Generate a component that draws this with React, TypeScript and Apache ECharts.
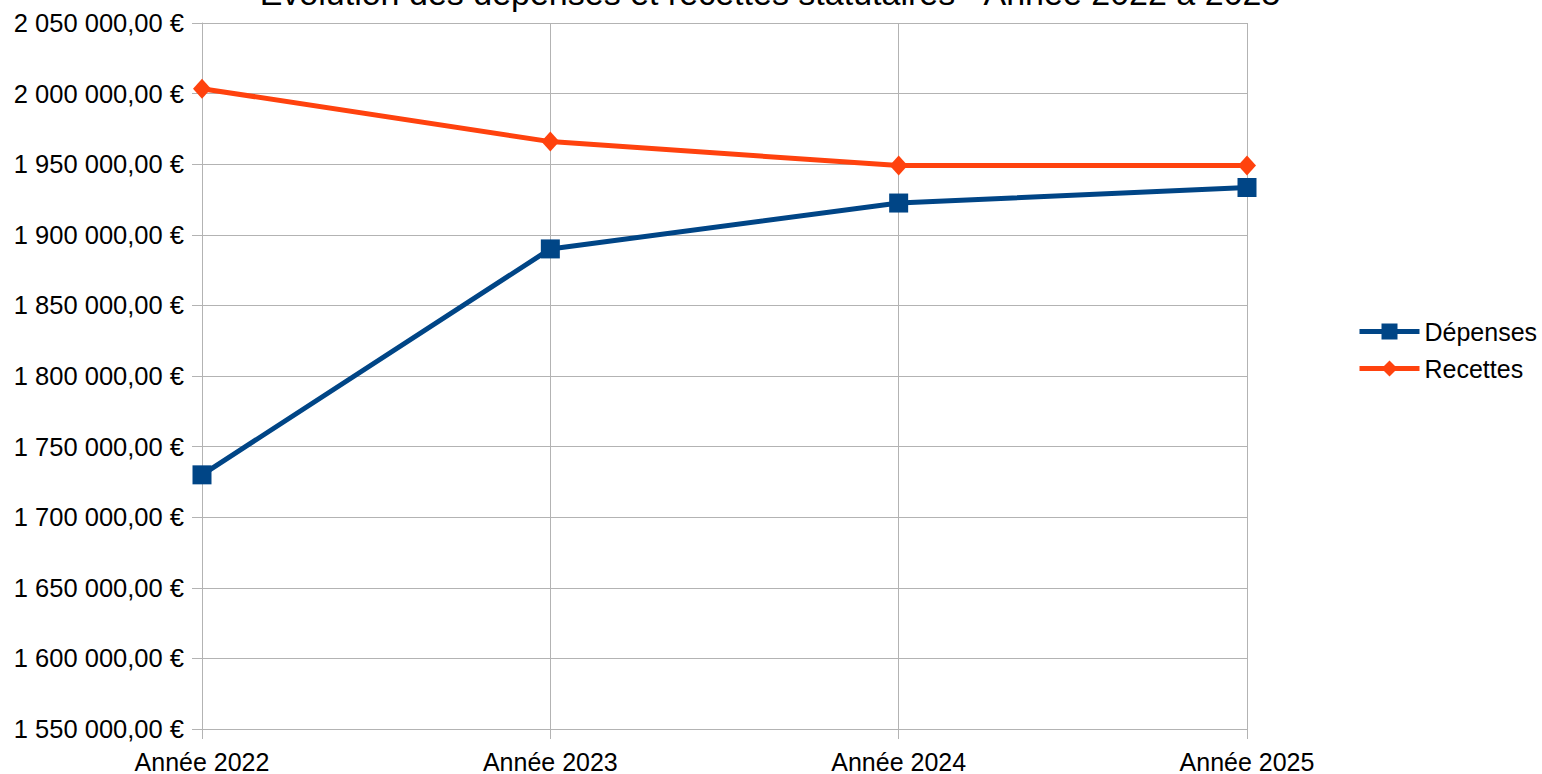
import React, { useEffect, useRef } from "react";
import * as echarts from "echarts";

const title = "Évolution des dépenses et recettes statutaires - Année 2022 à 2025";
const categories = ["Année 2022", "Année 2023", "Année 2024", "Année 2025"];
const depenses = [1730000, 1890000, 1922500, 1933500];
const recettes = [2003500, 1966000, 1949000, 1949000];
const yMin = 1550000;
const yMax = 2050000;
const yStep = 50000;

function fmt(v: number): string {
  const s = Math.round(v).toString().replace(/\B(?=(\d{3})+(?!\d))/g, " ");
  return s + ",00 €";
}

export default function App() {
  const ref = useRef<HTMLDivElement>(null);
  useEffect(() => {
    if (!ref.current) return;
    const chart = echarts.init(ref.current, undefined, { renderer: "svg" });
    const font = "'Liberation Sans', Arial, sans-serif";
    chart.setOption({
      animation: false,
      backgroundColor: "#ffffff",
      textStyle: { fontFamily: font },
      graphic: [
        {
          type: "text",
          x: 770,
          y: -7,
          style: {
            text: title,
            font: "34px 'Liberation Sans', Arial, sans-serif",
            fill: "#000",
            textAlign: "center",
            textVerticalAlign: "middle",
          },
        },
      ],
      grid: { left: 202, right: 295, top: 23, bottom: 44, containLabel: false },
      legend: {
        orient: "vertical",
        left: 1352,
        top: 314,
        itemWidth: 60,
        itemHeight: 20,
        itemGap: 12,
        lineStyle: { width: 5 },
        textStyle: { fontSize: 25, color: "#000", fontFamily: font },
        data: ["Dépenses", "Recettes"],
      },
      xAxis: {
        type: "category",
        data: categories,
        boundaryGap: false,
        axisLine: { lineStyle: { color: "#b3b3b3", width: 1 } },
        axisTick: { show: true, length: 10, lineStyle: { color: "#b3b3b3" } },
        axisLabel: { color: "#000", fontSize: 25, margin: 20, fontFamily: font },
        splitLine: { show: true, lineStyle: { color: "#b3b3b3", width: 1 } },
      },
      yAxis: {
        type: "value",
        min: yMin,
        max: yMax,
        interval: yStep,
        axisLine: { show: true, lineStyle: { color: "#b3b3b3", width: 1 } },
        axisTick: { show: true, length: 10, lineStyle: { color: "#b3b3b3" } },
        axisLabel: { color: "#000", fontSize: 25.5, margin: 18, formatter: fmt, fontFamily: font },
        splitLine: { show: true, lineStyle: { color: "#b3b3b3", width: 1 } },
      },
      series: [
        {
          name: "Dépenses",
          type: "line",
          data: depenses,
          color: "#004586",
          lineStyle: { width: 5, color: "#004586" },
          itemStyle: { color: "#004586" },
          symbol: "rect",
          symbolSize: 19,
        },
        {
          name: "Recettes",
          type: "line",
          data: recettes,
          color: "#ff420e",
          lineStyle: { width: 5, color: "#ff420e" },
          itemStyle: { color: "#ff420e" },
          symbol: "diamond",
          symbolSize: [18, 20],
        },
      ],
    });
    return () => chart.dispose();
  }, []);
  return (
    <div
      ref={ref}
      style={{ position: "fixed", left: 0, top: 0, width: 1542, height: 774 }}
    />
  );
}
